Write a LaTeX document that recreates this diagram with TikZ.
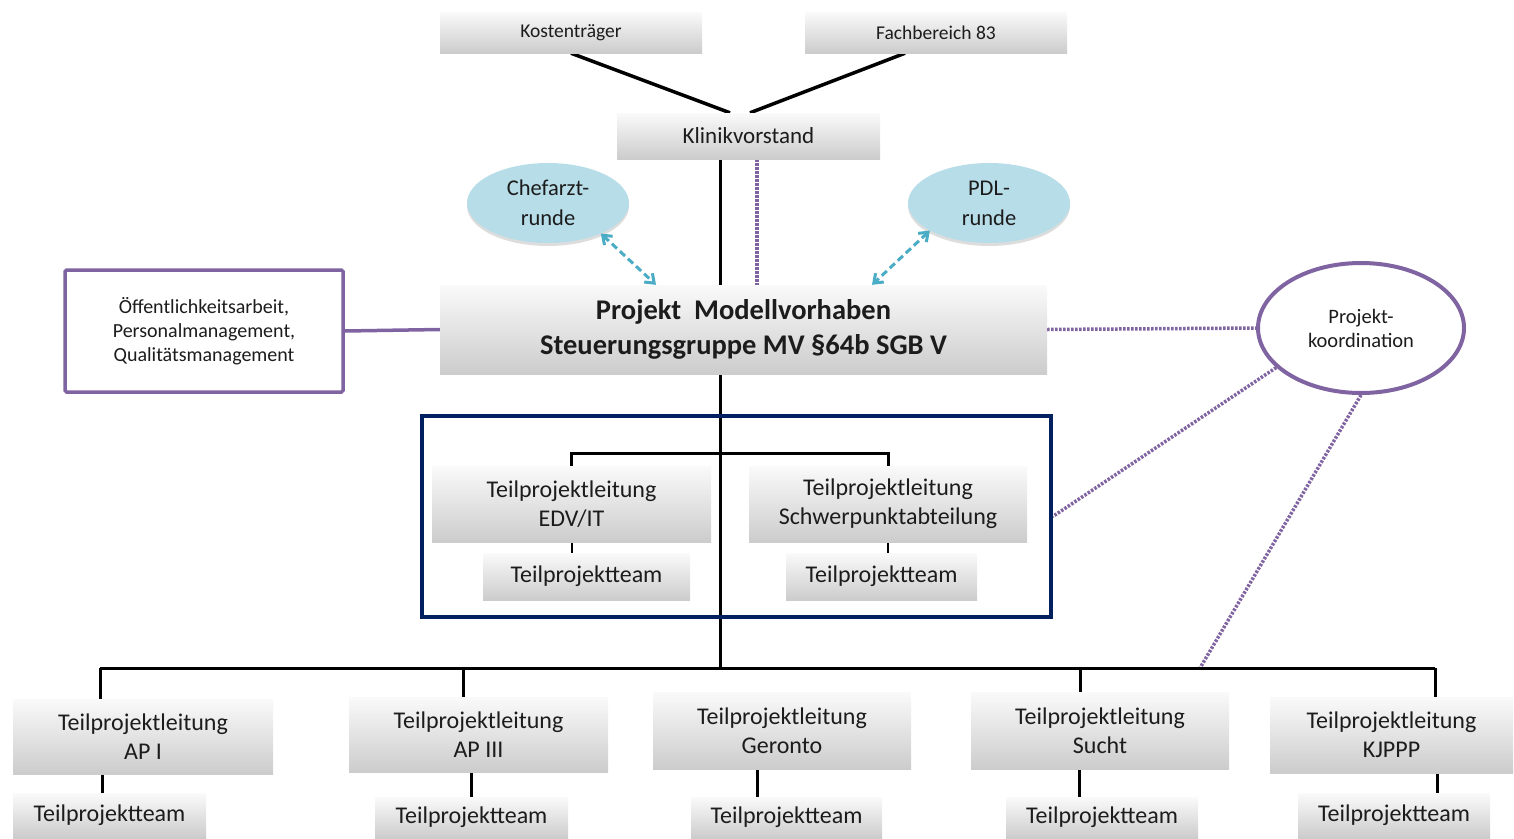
\documentclass[tikz,border=0pt]{standalone}
\usepackage{fontspec}
\setmainfont{Carlito}
\usetikzlibrary{arrows.meta,calc,shapes.geometric,shadows}
\definecolor{purp}{RGB}{128,100,162}
\definecolor{navy}{RGB}{0,32,96}
\definecolor{cyanl}{RGB}{183,221,232}
\definecolor{cyand}{RGB}{75,172,198}
\definecolor{txt}{RGB}{28,28,28}
\pgfdeclarelayer{bg}
\pgfsetlayers{bg,main}
\tikzset{
  gbox/.style={rectangle, inner sep=0pt, top color=gray!4, bottom color=gray!40, align=center, text=txt},
  small/.style={font=\fontsize{19.5}{21}\selectfont},
  mid/.style={font=\fontsize{23}{29}\selectfont},
  big/.style={font=\fontsize{24}{29}\selectfont},
  cloud/.style={ellipse, inner sep=0pt, fill=cyanl, align=center, text=txt, font=\fontsize{22.5}{30}\selectfont,
    drop shadow={shadow xshift=0pt, shadow yshift=-3pt, fill=gray!45, opacity=0.6}},
  blk/.style={draw=black, line width=3pt},
  pdot/.style={draw=purp, line width=3.5pt, dash pattern=on 2.5pt off 1.5pt},
  carrow/.style={draw=cyand, line width=3pt, dash pattern=on 7pt off 4pt,
    {Straight Barb[length=8pt,width=12pt]}-{Straight Barb[length=8pt,width=12pt]}}
}
\begin{document}
\begin{tikzpicture}[x=1pt,y=-1pt]
\useasboundingbox (0,0) rectangle (1514,838);
% top
\node[gbox, small, minimum width=262pt, minimum height=41pt] (kost) at (571,32.5) {Kostenträger};
\node[gbox, small, minimum width=262pt, minimum height=41pt] (fach) at (936,32.5) {Fachbereich 83};
\node[gbox, mid, minimum width=263pt, minimum height=46pt] (klinik) at (748.5,136) {Klinikvorstand};
\node[cloud, minimum width=162pt, minimum height=80pt] (chef) at (548,203) {Chefarzt-\\runde};
\node[cloud, minimum width=162pt, minimum height=80pt] (pdl) at (989,203) {PDL-\\runde};
% main
\node[gbox, font=\fontsize{28.5}{35}\selectfont\bfseries, minimum width=607pt, minimum height=89pt] (main) at (743.5,329.5)
  {Projekt\ \ Modellvorhaben\\Steuerungsgruppe MV §64b SGB V};
\node[draw=purp, line width=3.5pt, fill=white, rounded corners=1.5pt, inner sep=0pt, align=center, text=txt,
  font=\fontsize{20}{24}\selectfont, minimum width=278pt, minimum height=122pt] (left) at (204,331)
  {Öffentlichkeitsarbeit,\\Personalmanagement,\\Qualitätsmanagement};
\node[ellipse, draw=purp, line width=4pt, fill=white, inner sep=0pt, align=center, text=txt,
  font=\fontsize{20.5}{24}\selectfont, minimum width=206pt, minimum height=130pt] (pk) at (1361,328) {Projekt-\\koordination};
% group
\node[draw=navy, line width=3.5pt, inner sep=0pt, minimum width=629pt, minimum height=201pt] (grp) at (736.5,516.5) {};
\node[gbox, big, minimum width=279pt, minimum height=76pt] (edv) at (571.5,504) {Teilprojektleitung\\EDV/IT};
\node[gbox, big, minimum width=278pt, minimum height=76pt] (schw) at (888,504) {Teilprojektleitung\\Schwerpunktabteilung};
\node[gbox, big, minimum width=207pt, minimum height=47pt] (tedv) at (586.5,576.5) {Teilprojektteam};
\node[gbox, big, minimum width=191pt, minimum height=47pt] (tschw) at (881.5,576.5) {Teilprojektteam};
% bottom
\node[gbox, big, minimum width=260pt, minimum height=75pt] (ap1) at (143,736.5) {Teilprojektleitung\\AP I};
\node[gbox, big, minimum width=259pt, minimum height=75pt] (ap3) at (478.5,734.5) {Teilprojektleitung\\AP III};
\node[gbox, big, minimum width=258pt, minimum height=77pt] (ger) at (782,730.5) {Teilprojektleitung\\Geronto};
\node[gbox, big, minimum width=258pt, minimum height=77pt] (sucht) at (1100,730.5) {Teilprojektleitung\\Sucht};
\node[gbox, big, minimum width=243pt, minimum height=76pt] (kj) at (1391.5,735) {Teilprojektleitung\\KJPPP};
\node[gbox, big, minimum width=193pt, minimum height=45pt] (t1) at (109.5,815.5) {Teilprojektteam};
\node[gbox, big, minimum width=193pt, minimum height=41pt] (t2) at (471.5,817.5) {Teilprojektteam};
\node[gbox, big, minimum width=191pt, minimum height=41pt] (t3) at (786.5,817.5) {Teilprojektteam};
\node[gbox, big, minimum width=192pt, minimum height=41pt] (t4) at (1102,817.5) {Teilprojektteam};
\node[gbox, big, minimum width=192pt, minimum height=45pt] (t5) at (1394,815.5) {Teilprojektteam};
% bus coordinates
\coordinate (busL) at (100,668);
\coordinate (busR) at (1435,668);
\coordinate (busM) at (720,668);
\coordinate (bus3) at (463,668);
\coordinate (bus4) at (1080,668);
\coordinate (busP) at (1200,668);
\begin{pgfonlayer}{bg}
\draw[blk, line width=3.5pt] (kost.south) -- ([xshift=-18.5pt]klinik.north);
\draw[blk, line width=3.5pt] ([xshift=-31pt]fach.south) -- ([xshift=1.5pt]klinik.north);
\draw[blk] (klinik.south -| busM) -- (busM);
\draw[pdot] ([xshift=8.5pt]klinik.south) -- ([xshift=8.5pt]klinik.south |- main.north);
\draw[draw=purp, line width=3.5pt] (left.east) -- (main.west);
\draw[pdot] (main.east) -- (pk.west);
\draw[pdot] (pk.205) -- (grp.east);
\draw[pdot] (pk.south) -- (busP);
\draw[blk] (edv.north) -- ++(0,-12) -| (schw.north);
\draw[blk, line width=2pt] (edv.south) -- (edv.south |- tedv.north);
\draw[blk, line width=2pt] (schw.south) -- (schw.south |- tschw.north);
\draw[blk] (busL) -- (busR);
\draw[blk] (busL) -- (busL |- ap1.north);
\draw[blk] (bus3) -- (bus3 |- ap3.north);
\draw[blk] (bus4) -- (bus4 |- sucht.north);
\draw[blk] (busR) -- (busR |- kj.north);
\draw[blk] ([xshift=-41pt]ap1.south) -- ([xshift=-41pt]ap1.south |- t1.north);
\draw[blk] ([xshift=-7.5pt]ap3.south) -- ([xshift=-7.5pt]ap3.south |- t2.north);
\draw[blk] ([xshift=-25pt]ger.south) -- ([xshift=-25pt]ger.south |- t3.north);
\draw[blk] ([xshift=-21pt]sucht.south) -- ([xshift=-21pt]sucht.south |- t4.north);
\draw[blk] ([xshift=46pt]kj.south) -- ([xshift=46pt]kj.south |- t5.north);
\end{pgfonlayer}
\draw[carrow] (chef.330) -- ([xshift=-87.5pt]main.north);
\draw[carrow] (pdl.205) -- ([xshift=128.5pt]main.north);
\end{tikzpicture}
\end{document}
